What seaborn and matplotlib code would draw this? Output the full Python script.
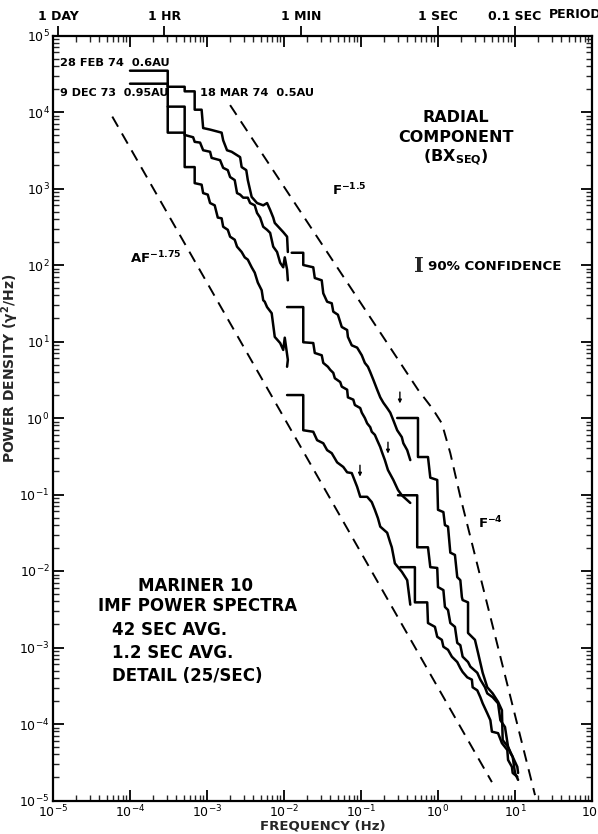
import numpy as np
import pandas as pd
import matplotlib
matplotlib.use("Agg")
import matplotlib.pyplot as plt
from matplotlib.ticker import LogLocator, NullFormatter, FixedLocator, FixedFormatter
import seaborn as sns

# ---------------- data (log10 of frequency in Hz, log10 of power density) -------------
# 42 sec averages (low frequency)
upper_42_logf = [-4.00, -3.51, -3.51, -3.29, -3.29, -3.16, -3.16, -3.07, -3.05, -2.96, -2.81, -2.79,
                 -2.74, -2.68, -2.57, -2.55, -2.49, -2.47, -2.42, -2.35, -2.27, -2.22, -2.18, -2.14,
                 -2.12, -2.01, -1.96, -1.95]
upper_42_logp = [4.37, 4.37, 4.33, 4.33, 4.27, 4.27, 4.03, 4.03, 3.79, 3.77, 3.73, 3.63,
                 3.50, 3.48, 3.41, 3.28, 3.24, 3.11, 2.89, 2.81, 2.78, 2.81, 2.72, 2.62,
                 2.55, 2.43, 2.37, 2.17]

middle_42_logf = [-4.00, -3.51, -3.51, -3.29, -3.29, -3.18, -3.16, -3.09, -3.05, -2.96, -2.94, -2.83,
                  -2.79, -2.73, -2.70, -2.64, -2.61, -2.57, -2.53, -2.47, -2.44, -2.38, -2.35, -2.31,
                  -2.27, -2.22, -2.18, -2.14, -2.09, -2.05, -2.01, -1.99, -1.96, -1.95]
middle_42_logp = [4.54, 4.54, 3.73, 3.73, 3.70, 3.67, 3.61, 3.60, 3.50, 3.48, 3.40, 3.37,
                  3.27, 3.24, 3.15, 3.11, 2.94, 2.92, 2.88, 2.88, 2.81, 2.78, 2.68, 2.62,
                  2.50, 2.46, 2.42, 2.24, 2.17, 2.03, 1.97, 2.10, 1.94, 1.80]

lower_42_logf = [-3.51, -3.29, -3.29, -3.16, -3.16, -3.07, -3.05, -2.99, -2.96, -2.90, -2.86, -2.81,
                 -2.79, -2.73, -2.70, -2.64, -2.61, -2.55, -2.51, -2.47, -2.42, -2.38, -2.34, -2.29,
                 -2.27, -2.25, -2.22, -2.16, -2.12, -2.05, -2.01, -1.99, -1.95, -1.96]
lower_42_logp = [4.07, 4.07, 3.28, 3.28, 3.07, 3.05, 2.94, 2.92, 2.81, 2.78, 2.62, 2.61,
                 2.50, 2.46, 2.37, 2.33, 2.24, 2.17, 2.10, 2.07, 1.97, 1.90, 1.77, 1.67,
                 1.54, 1.52, 1.45, 1.37, 1.06, 0.98, 0.89, 1.05, 0.76, 0.67]

# 1.2 sec averages
upper_12_logf = [-1.90, -1.75, -1.75, -1.62, -1.60, -1.51, -1.49, -1.44, -1.38, -1.36, -1.30, -1.25,
                 -1.18, -1.17, -1.12, -1.05, -0.99, -0.95, -0.91, -0.88, -0.84, -0.79, -0.75, -0.71,
                 -0.66, -0.62, -0.58, -0.53, -0.47, -0.45, -0.40, -0.36]
upper_12_logp = [2.16, 2.16, 2.00, 1.97, 1.83, 1.80, 1.63, 1.52, 1.50, 1.39, 1.35, 1.19,
                 1.15, 1.06, 0.95, 0.92, 0.82, 0.72, 0.67, 0.60, 0.50, 0.37, 0.27, 0.20,
                 0.13, 0.07, -0.03, -0.16, -0.25, -0.33, -0.42, -0.55]

middle_12_logf = [-1.96, -1.75, -1.75, -1.62, -1.60, -1.51, -1.49, -1.43, -1.40, -1.36, -1.34, -1.27,
                  -1.25, -1.18, -1.17, -1.10, -1.08, -1.01, -0.99, -0.95, -0.92, -0.88, -0.86, -0.82,
                  -0.79, -0.75, -0.73, -0.69, -0.65, -0.58, -0.52, -0.47, -0.36]
middle_12_logp = [1.45, 1.45, 0.99, 0.98, 0.85, 0.82, 0.72, 0.67, 0.63, 0.59, 0.52, 0.47,
                  0.41, 0.37, 0.27, 0.24, 0.17, 0.13, 0.07, 0.00, -0.07, -0.12, -0.18, -0.22,
                  -0.29, -0.38, -0.44, -0.55, -0.68, -0.81, -0.94, -1.01, -1.11]

lower_12_logf = [-1.96, -1.75, -1.75, -1.62, -1.57, -1.49, -1.44, -1.38, -1.31, -1.23, -1.18, -1.12,
                 -1.05, -1.01, -0.92, -0.86, -0.82, -0.78, -0.75, -0.66, -0.62, -0.60, -0.56, -0.47,
                 -0.40, -0.36]
lower_12_logp = [0.30, 0.30, -0.16, -0.18, -0.29, -0.33, -0.42, -0.46, -0.58, -0.64, -0.71, -0.72,
                 -0.90, -1.03, -1.03, -1.10, -1.20, -1.31, -1.42, -1.50, -1.63, -1.69, -1.90, -2.01,
                 -2.12, -2.44]

# detail (25 samples/sec)
upper_det_logf = [-0.53, -0.26, -0.26, -0.13, -0.10, -0.01, 0.00, 0.07, 0.09, 0.13, 0.16, 0.22,
                  0.25, 0.29, 0.31, 0.32, 0.39, 0.39, 0.48, 0.52, 0.58, 0.64, 0.71, 0.78,
                  0.83, 0.84, 0.91, 0.94, 0.97, 1.00, 1.04]
upper_det_logp = [0.00, 0.00, -0.51, -0.51, -0.78, -0.81, -1.20, -1.23, -1.40, -1.42, -1.76, -1.79,
                  -2.08, -2.12, -2.34, -2.38, -2.41, -2.81, -2.90, -3.07, -3.33, -3.52, -3.60, -3.71,
                  -3.82, -4.21, -4.30, -4.38, -4.43, -4.64, -4.73]

middle_det_logf = [-0.52, -0.27, -0.27, -0.13, -0.10, -0.01, 0.00, 0.07, 0.09, 0.13, 0.16, 0.22,
                   0.25, 0.29, 0.32, 0.39, 0.42, 0.51, 0.55, 0.61, 0.64, 0.71, 0.78, 0.81,
                   0.87, 0.91, 0.97, 1.03, 1.04]
middle_det_logp = [-1.01, -1.01, -1.69, -1.69, -1.95, -1.96, -2.21, -2.25, -2.47, -2.51, -2.68, -2.73,
                   -2.94, -2.97, -3.12, -3.19, -3.25, -3.33, -3.42, -3.52, -3.60, -3.65, -3.73, -3.95,
                   -4.04, -4.30, -4.43, -4.56, -4.64]

lower_det_logf = [-0.49, -0.30, -0.30, -0.14, -0.13, -0.04, -0.01, 0.05, 0.07, 0.13, 0.18, 0.25,
                  0.29, 0.32, 0.38, 0.44, 0.45, 0.51, 0.55, 0.58, 0.64, 0.68, 0.70, 0.78,
                  0.83, 0.90, 0.91, 0.96, 0.97, 1.03]
lower_det_logp = [-1.95, -1.95, -2.41, -2.41, -2.68, -2.73, -2.86, -2.90, -2.99, -3.03, -3.12, -3.19,
                  -3.27, -3.32, -3.39, -3.42, -3.52, -3.56, -3.65, -3.73, -3.86, -3.95, -4.10, -4.12,
                  -4.25, -4.34, -4.47, -4.56, -4.64, -4.69]

# reference power laws (dashed)
af175_logf = [-4.23, 0.70]
af175_logp = [3.94, -4.76]
f15_f4_logf = [-2.70, -0.26, -0.07, 0.05, 0.16, 0.29, 1.26]
f15_f4_logp = [4.09, 0.37, 0.12, -0.07, -0.46, -1.03, -4.93]

# top (period) axis
period_freqs = [1 / 86400, 1 / 3600, 1 / 60, 1.0, 10.0]
period_labels = ["1 DAY", "1 HR", "1 MIN", "1 SEC", "0.1 SEC"]

# ---------------- build frames ----------------
segments = {
    "upper_42": (upper_42_logf, upper_42_logp), "middle_42": (middle_42_logf, middle_42_logp),
    "lower_42": (lower_42_logf, lower_42_logp), "upper_12": (upper_12_logf, upper_12_logp),
    "middle_12": (middle_12_logf, middle_12_logp), "lower_12": (lower_12_logf, lower_12_logp),
    "upper_det": (upper_det_logf, upper_det_logp), "middle_det": (middle_det_logf, middle_det_logp),
    "lower_det": (lower_det_logf, lower_det_logp),
}
rows = []
for name, (lf, lp) in segments.items():
    for i, (a, b) in enumerate(zip(lf, lp)):
        rows.append({"seg": name, "i": i, "freq": 10 ** a, "power": 10 ** b})
spec = pd.DataFrame(rows)

refs = {"af175": (af175_logf, af175_logp), "f15f4": (f15_f4_logf, f15_f4_logp)}
rrows = []
for name, (lf, lp) in refs.items():
    for i, (a, b) in enumerate(zip(lf, lp)):
        rrows.append({"seg": name, "i": i, "freq": 10 ** a, "power": 10 ** b})
ref = pd.DataFrame(rrows)

# ---------------- plot ----------------
sns.set_theme(style="ticks")
plt.rcParams["font.family"] = ["DejaVu Sans"]
plt.rcParams["mathtext.default"] = "regular"

W, H = 598, 834
fig = plt.figure(figsize=(W / 100, H / 100), dpi=100, facecolor="white")
ax = fig.add_axes([53 / W, 1 - 800.5 / H, (592 - 53) / W, 765 / H])
ax.set_facecolor("white")
ax.set_xscale("log")
ax.set_yscale("log")

sns.lineplot(data=spec, x="freq", y="power", units="seg", estimator=None, sort=False,
             color="black", lw=1.8, ax=ax, legend=False)
sns.lineplot(data=ref, x="freq", y="power", units="seg", estimator=None, sort=False,
             color="black", lw=1.4, linestyle=(0, (6, 4)), ax=ax, legend=False)

ax.set_xlim(1e-5, 1e2)
ax.set_ylim(1e-5, 1e5)

# top period axis (created first: twiny resets the main axis' top ticks)
ax2 = ax.twiny()
ax2.set_xscale("log")
ax2.set_xlim(ax.get_xlim())
ax2.xaxis.set_major_locator(FixedLocator(period_freqs))
ax2.xaxis.set_major_formatter(FixedFormatter(period_labels))
ax2.xaxis.set_minor_locator(FixedLocator([]))
ax2.tick_params(axis="x", which="major", direction="out", length=7, width=1.3, labelsize=9,
                pad=2, colors="black")
for lab in ax2.get_xticklabels():
    lab.set_fontweight("bold")
for s in ax2.spines.values():
    s.set_visible(False)

for s in ax.spines.values():
    s.set_linewidth(1.6)
    s.set_color("black")

ax.xaxis.set_major_locator(LogLocator(base=10, numticks=20))
ax.yaxis.set_major_locator(LogLocator(base=10, numticks=20))
ax.xaxis.set_minor_locator(LogLocator(base=10, subs=np.arange(2, 10), numticks=200))
ax.yaxis.set_minor_locator(LogLocator(base=10, subs=np.arange(2, 10), numticks=200))
ax.xaxis.set_minor_formatter(NullFormatter())
ax.yaxis.set_minor_formatter(NullFormatter())
ax.tick_params(which="major", direction="in", length=8, width=1.3, top=True, right=True,
               labeltop=False, labelright=False, labelsize=9, colors="black", pad=2.5)
ax.tick_params(which="minor", direction="in", length=4, width=1.0, top=True, right=True)

ax.set_xlabel("FREQUENCY (Hz)", fontsize=9.5, fontweight="bold")
ax.xaxis.set_label_coords(0.5, -0.0245)
ax.set_ylabel(r"POWER DENSITY ($\gamma^2$/Hz)", fontsize=10, fontweight="bold")
ax.yaxis.set_label_coords(-0.06, 0.565)


def fp(x, y):
    return (x / W, 1 - y / H)


def put(x, y, s, size=9, ha="left", **kw):
    fig.text(*fp(x, y), s, fontsize=size, ha=ha, va="center", fontweight="bold",
             color="black", **kw)


put(549, 14, "PERIOD", 9)
put(60, 63, "28 FEB 74  0.6AU", 8.2)
put(60, 93, "9 DEC 73  0.95AU", 8.0)
put(200, 93, "18 MAR 74  0.5AU", 8.2)
put(456, 117, "RADIAL", 11.5, ha="center")
put(456, 138, "COMPONENT", 11.5, ha="center")
put(456, 158, r"(BX$_{SEQ}$)", 11.5, ha="center")
fig.text(*fp(419, 266), "I", fontsize=15, family="DejaVu Serif", fontweight="bold",
         ha="center", va="center")
put(428, 266, "90% CONFIDENCE", 9.6)
put(332, 190, r"F$^{-1.5}$", 9.5)
put(478, 523, r"F$^{-4}$", 9.5)
put(130, 258, r"AF$^{-1.75}$", 9.5)
put(196, 586, "MARINER 10", 12, ha="center")
put(98, 606, "IMF POWER SPECTRA", 12)
put(112, 630, "42 SEC AVG.", 12)
put(112, 653, "1.2 SEC AVG.", 12)
put(112, 676, "DETAIL (25/SEC)", 12)

# small Nyquist arrows on the 1.2 sec spectra
for fx, py in [(0.32, 1.9), (0.224, 0.42), (0.097, 0.21)]:
    ax.annotate("", xy=(fx, py * 0.75), xytext=(fx, py * 1.25),
                arrowprops=dict(arrowstyle="-|>", color="black", lw=1.0, mutation_scale=5))

fig.savefig("out.png", dpi=100, facecolor="white")
